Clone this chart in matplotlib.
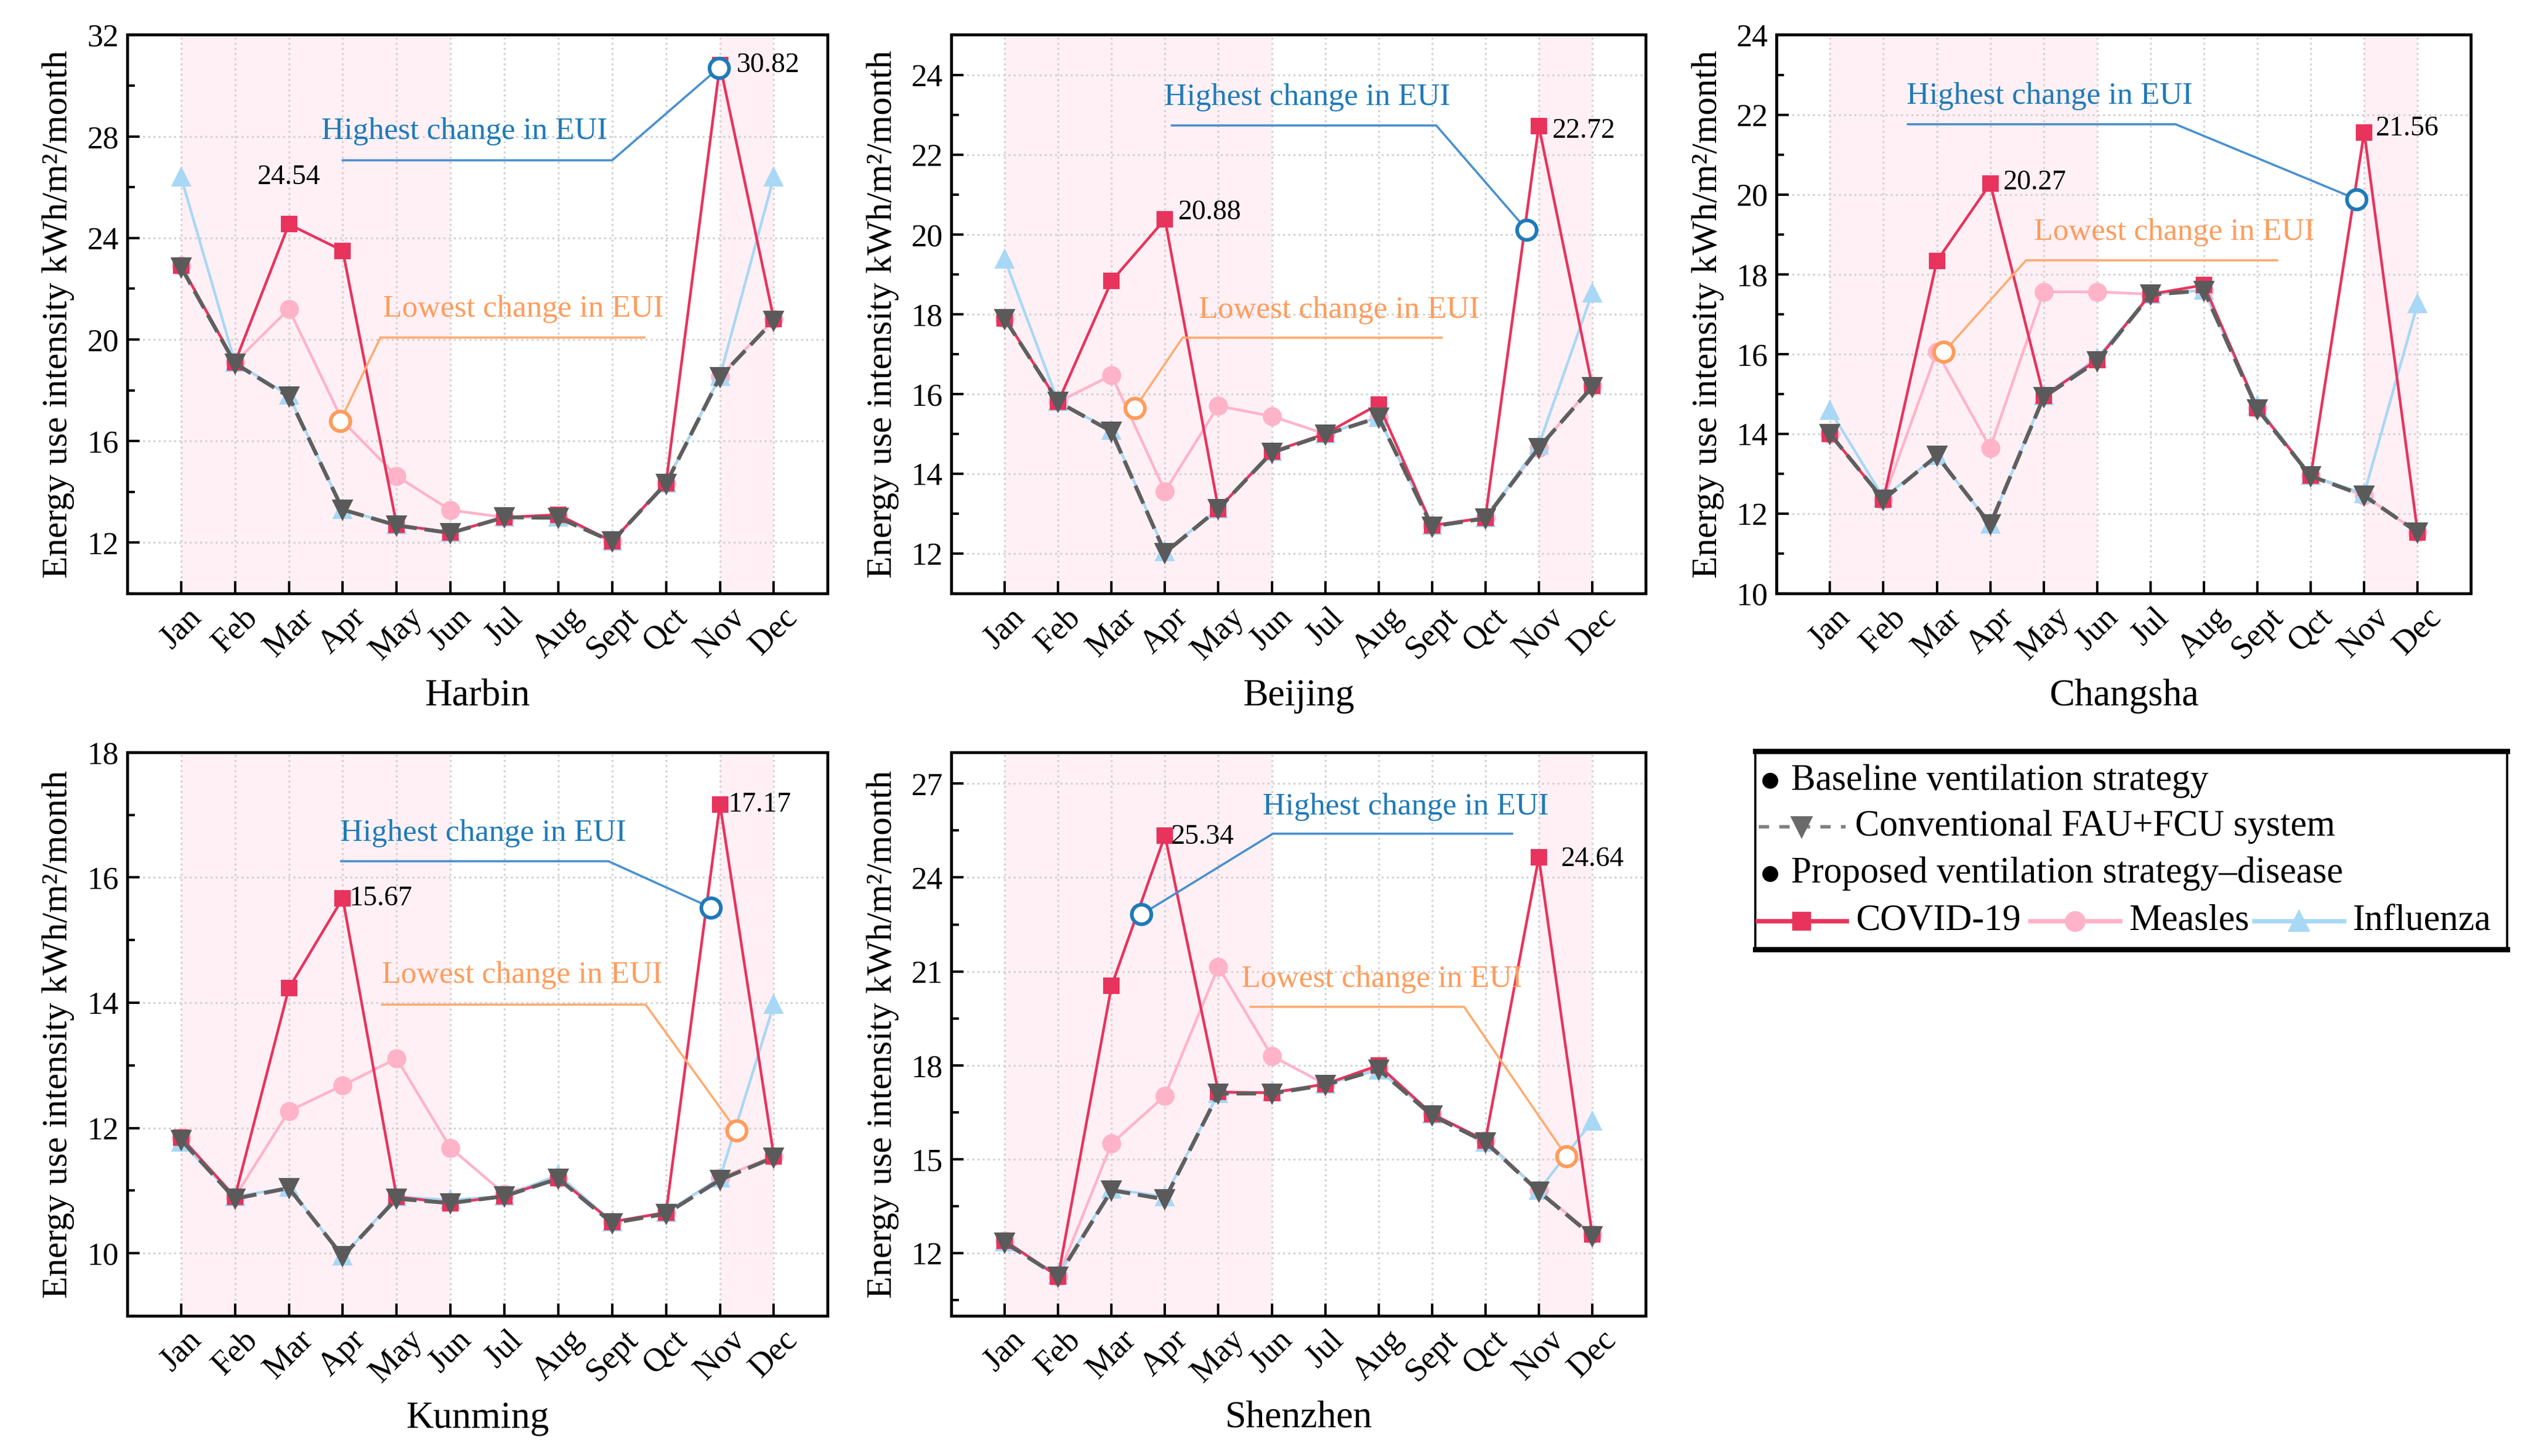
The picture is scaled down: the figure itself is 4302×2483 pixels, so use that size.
import matplotlib
matplotlib.use('Agg')
from matplotlib import pyplot as plt
from matplotlib.ticker import MultipleLocator
import numpy as np

plt.rcParams['font.family'] = ['Liberation Serif', 'DejaVu Serif']

months = ['Jan', 'Feb', 'Mar', 'Apr', 'May', 'Jun', 'Jul', 'Aug', 'Sept', 'Qct', 'Nov', 'Dec']
x = np.arange(1, 13)

# monthly EUI, kWh/m2/month
harbin_base = [22.85, 19.06, 17.75, 13.3, 12.68, 12.38, 13.0, 12.98, 12.05, 14.33, 18.52, 20.75]
harbin_covid = [22.9, 19.1, 24.54, 23.5, 12.7, 12.4, 13.0, 13.1, 12.05, 14.35, 30.82, 20.8]
harbin_measles = [22.9, 19.1, 21.2, 16.78, 14.62, 13.28, 13.0, 13.05, 12.05, 14.35, 18.55, 20.8]
harbin_flu = [26.4, 19.1, 17.8, 13.3, 12.7, 12.4, 13.0, 13.0, 12.05, 14.35, 18.55, 26.4]

beijing_base = [17.88, 15.8, 15.06, 12.02, 13.12, 14.53, 14.98, 15.41, 12.68, 12.88, 14.65, 16.18]
beijing_covid = [17.9, 15.8, 18.83, 20.38, 13.12, 14.55, 15.0, 15.74, 12.7, 12.9, 22.72, 16.2]
beijing_measles = [17.9, 15.8, 16.47, 13.56, 15.7, 15.44, 15.0, 15.41, 12.7, 12.9, 14.65, 16.2]
beijing_flu = [19.38, 15.8, 15.08, 12.05, 13.12, 14.55, 15.0, 15.41, 12.7, 12.9, 14.72, 18.53]

changsha_base = [14.0, 12.35, 13.45, 11.73, 14.92, 15.82, 17.49, 17.59, 14.62, 12.94, 12.45, 11.53]
changsha_covid = [14.0, 12.35, 18.33, 20.27, 14.95, 15.85, 17.5, 17.73, 14.65, 12.95, 21.56, 11.53]
changsha_measles = [14.0, 12.35, 16.06, 13.65, 17.56, 17.56, 17.5, 17.6, 14.65, 12.95, 12.45, 11.53]
changsha_flu = [14.59, 12.4, 13.45, 11.73, 14.95, 15.9, 17.5, 17.6, 14.7, 12.95, 12.5, 17.26]

kunming_base = [11.81, 10.87, 11.04, 9.95, 10.87, 10.8, 10.91, 11.19, 10.48, 10.63, 11.17, 11.53]
kunming_covid = [11.85, 10.9, 14.23, 15.67, 10.9, 10.8, 10.91, 11.2, 10.5, 10.65, 17.17, 11.55]
kunming_measles = [11.85, 10.9, 12.27, 12.68, 13.11, 11.68, 10.95, 11.2, 10.5, 10.65, 11.2, 11.55]
kunming_flu = [11.77, 10.9, 11.05, 9.95, 10.9, 10.85, 10.91, 11.25, 10.5, 10.65, 11.2, 13.97]

shenzhen_base = [12.34, 11.25, 14.01, 13.72, 17.1, 17.1, 17.37, 17.87, 16.4, 15.55, 13.97, 12.55]
shenzhen_covid = [12.4, 11.25, 20.54, 25.34, 17.15, 17.12, 17.4, 18.0, 16.45, 15.6, 24.64, 12.6]
shenzhen_measles = [12.4, 11.25, 15.5, 17.03, 21.15, 18.3, 17.4, 17.9, 16.45, 15.6, 14.0, 12.6]
shenzhen_flu = [12.35, 11.3, 14.05, 13.8, 17.1, 17.15, 17.4, 17.85, 16.45, 15.55, 14.0, 16.22]

c_covid = '#e8335d'
c_measles = '#ffb3c8'
c_flu = '#a8d8f5'
c_base = '#5f5f5f'
c_hi_txt = '#1f7ab8'
c_hi_ln = '#4a90cf'
c_lo_txt = '#ff9c5c'
c_lo_ln = '#ffab70'
c_shade = '#fff0f5'

# city, data, ylim, major ticks, minor step, axes rect
panels = [
    ('Harbin', (harbin_base, harbin_covid, harbin_measles, harbin_flu), (10, 32), np.arange(12, 33, 4), 2,
     [0.0504, 0.5924, 0.2776, 0.3836]),
    ('Beijing', (beijing_base, beijing_covid, beijing_measles, beijing_flu), (11, 25), np.arange(12, 25, 2), 1,
     [0.3770, 0.5924, 0.2751, 0.3836]),
    ('Changsha', (changsha_base, changsha_covid, changsha_measles, changsha_flu), (10, 24), np.arange(10, 25, 2), 1,
     [0.7040, 0.5924, 0.2752, 0.3836]),
    ('Kunming', (kunming_base, kunming_covid, kunming_measles, kunming_flu), (9, 18), np.arange(10, 19, 2), 1,
     [0.0504, 0.0963, 0.2776, 0.3870]),
    ('Shenzhen', (shenzhen_base, shenzhen_covid, shenzhen_measles, shenzhen_flu), (10, 28), np.arange(12, 28, 3), 1.5,
     [0.3770, 0.0963, 0.2751, 0.3870]),
]

# callouts: text pos, polyline xs, ys (last point = circle)
hi_notes = {
    'Harbin': ((3.6, 28.2), [4.0, 9.0, 10.98], [27.06, 27.06, 30.7]),
    'Beijing': ((3.98, 23.44), [4.13, 9.08, 10.77], [22.73, 22.73, 20.12]),
    'Changsha': ((2.44, 22.47), [2.46, 7.47, 10.86], [21.76, 21.76, 19.88]),
    'Kunming': ((3.95, 16.71), [3.97, 8.93, 10.83], [16.26, 16.26, 15.52]),
    'Shenzhen': ((5.83, 26.25), [10.5, 6.02, 3.56], [25.4, 25.4, 22.82]),
}
lo_notes = {
    'Harbin': ((4.75, 21.2), [9.6, 4.7, 3.95], [20.08, 20.08, 16.78]),
    'Beijing': ((4.63, 18.1), [9.18, 4.33, 3.44], [17.41, 17.41, 15.65]),
    'Changsha': ((4.82, 19.06), [9.37, 4.67, 3.13], [18.35, 18.35, 16.05]),
    'Kunming': ((4.73, 14.44), [4.73, 9.62, 11.31], [13.97, 13.97, 11.96]),
    'Shenzhen': ((5.43, 20.76), [5.6, 9.6, 11.52], [19.87, 19.87, 15.09]),
}
# peak value labels: (text, x, y, ha)
peak_labels = {
    'Harbin': [('24.54', 3.0, 26.4, 'center'), ('30.82', 11.3, 30.82, 'left')],
    'Beijing': [('20.88', 4.25, 20.55, 'left'), ('22.72', 11.25, 22.6, 'left')],
    'Changsha': [('20.27', 4.25, 20.3, 'left'), ('21.56', 11.22, 21.65, 'left')],
    'Kunming': [('15.67', 4.12, 15.67, 'left'), ('17.17', 11.15, 17.17, 'left')],
    'Shenzhen': [('25.34', 4.12, 25.3, 'left'), ('24.64', 11.42, 24.6, 'left')],
}

fig = plt.figure(figsize=(14.343, 8.277), dpi=300)

for city, (base, covid, measles, flu), ylim, yt, ymin, rect in panels:
    ax = fig.add_axes(rect)
    ax.axvspan(1, 6, color=c_shade, lw=0, zorder=0)
    ax.axvspan(11, 12, color=c_shade, lw=0, zorder=0)
    ax.plot(x, measles, color=c_measles, lw=1.1, marker='o', ms=6.8, zorder=3)
    ax.plot(x, flu, color=c_flu, lw=1.1, marker='^', ms=6.8, zorder=3)
    ax.plot(x, covid, color=c_covid, lw=1.1, marker='s', ms=5.8, zorder=4)
    ax.plot(x, base, color=c_base, lw=1.6, ls=(0, (5, 2)), marker='v', ms=7.2,
            mfc='#5a5a5a', mec='#5a5a5a', zorder=5)

    (tx, ty), px, py = hi_notes[city]
    ax.text(tx, ty, 'Highest change in EUI', color=c_hi_txt, fontsize=12.8, ha='left', va='center', zorder=6)
    ax.plot(px, py, color=c_hi_ln, lw=0.9, zorder=6)
    ax.plot(px[-1], py[-1], 'o', ms=8, mfc='white', mec=c_hi_txt, mew=1.5, zorder=7)
    (tx, ty), px, py = lo_notes[city]
    ax.text(tx, ty, 'Lowest change in EUI', color=c_lo_txt, fontsize=12.8, ha='left', va='center', zorder=6)
    ax.plot(px, py, color=c_lo_ln, lw=0.9, zorder=6)
    ax.plot(px[-1], py[-1], 'o', ms=8, mfc='white', mec=c_lo_txt, mew=1.5, zorder=7)

    for s, lx, ly, ha in peak_labels[city]:
        ax.text(lx, ly, s, fontsize=11.5, ha=ha, va='center', zorder=8)

    ax.set_xlim(0, 13)
    ax.set_ylim(*ylim)
    ax.set_xticks(x)
    ax.set_xticklabels(months, rotation=45, ha='center', va='top', fontsize=13.5)
    ax.set_yticks(yt)
    ax.yaxis.set_minor_locator(MultipleLocator(ymin))
    ax.tick_params(axis='y', labelsize=13)
    ax.tick_params(direction='in', which='both', top=False, right=False, width=1)
    ax.tick_params(which='major', length=5)
    ax.tick_params(which='minor', length=3)
    ax.grid(True, which='major', ls=':', color='#d2d2d2', lw=0.8)
    ax.set_axisbelow(True)
    for sp in ax.spines.values():
        sp.set_linewidth(1.2)
    ax.set_xlabel(city, fontsize=15.5, labelpad=5)
    ax.set_ylabel('Energy use intensity kWh/m²/month', fontsize=14.9, labelpad=5)

# legend panel
leg = fig.add_axes([0.6955, 0.348, 0.298, 0.136])
leg.set_xlim(0, 1)
leg.set_ylim(0, 1)
leg.axis('off')
leg.plot([0, 0], [0, 1], color='black', lw=0.9, clip_on=False)
leg.plot([1, 1], [0, 1], color='black', lw=0.9, clip_on=False)
leg.plot([0, 1], [1, 1], color='black', lw=2.2, clip_on=False)
leg.plot([0, 1], [0, 0], color='black', lw=2.2, clip_on=False)

rows = [0.851, 0.619, 0.382, 0.143]
fs_leg = 15
leg.plot(0.02, rows[0], 'o', color='black', ms=5.5)
leg.text(0.048, rows[0], 'Baseline ventilation strategy', fontsize=fs_leg, va='center')
leg.plot([0.005, 0.12], [rows[1]] * 2, color='#808080', lw=1.4, ls=(0, (3, 3)))
leg.plot(0.062, rows[1], 'v', color='#6a6a6a', ms=7.5)
leg.text(0.133, rows[1], 'Conventional FAU+FCU system', fontsize=fs_leg, va='center')
leg.plot(0.02, rows[2], 'o', color='black', ms=5.5)
leg.text(0.048, rows[2], 'Proposed ventilation strategy–disease', fontsize=fs_leg, va='center')

leg_items = [(0.003, 'COVID-19', c_covid, 's', 6.5), (0.366, 'Measles', c_measles, 'o', 7.5),
             (0.664, 'Influenza', c_flu, '^', 7.5)]
for x0, lab, col, mk, ms in leg_items:
    leg.plot([x0, x0 + 0.119], [rows[3]] * 2, color=col, lw=1.8)
    leg.plot(x0 + 0.059, rows[3], mk, color=col, ms=ms)
    leg.text(x0 + 0.131, rows[3], lab, fontsize=fs_leg, va='center')

plt.savefig('out.png', dpi=300)
